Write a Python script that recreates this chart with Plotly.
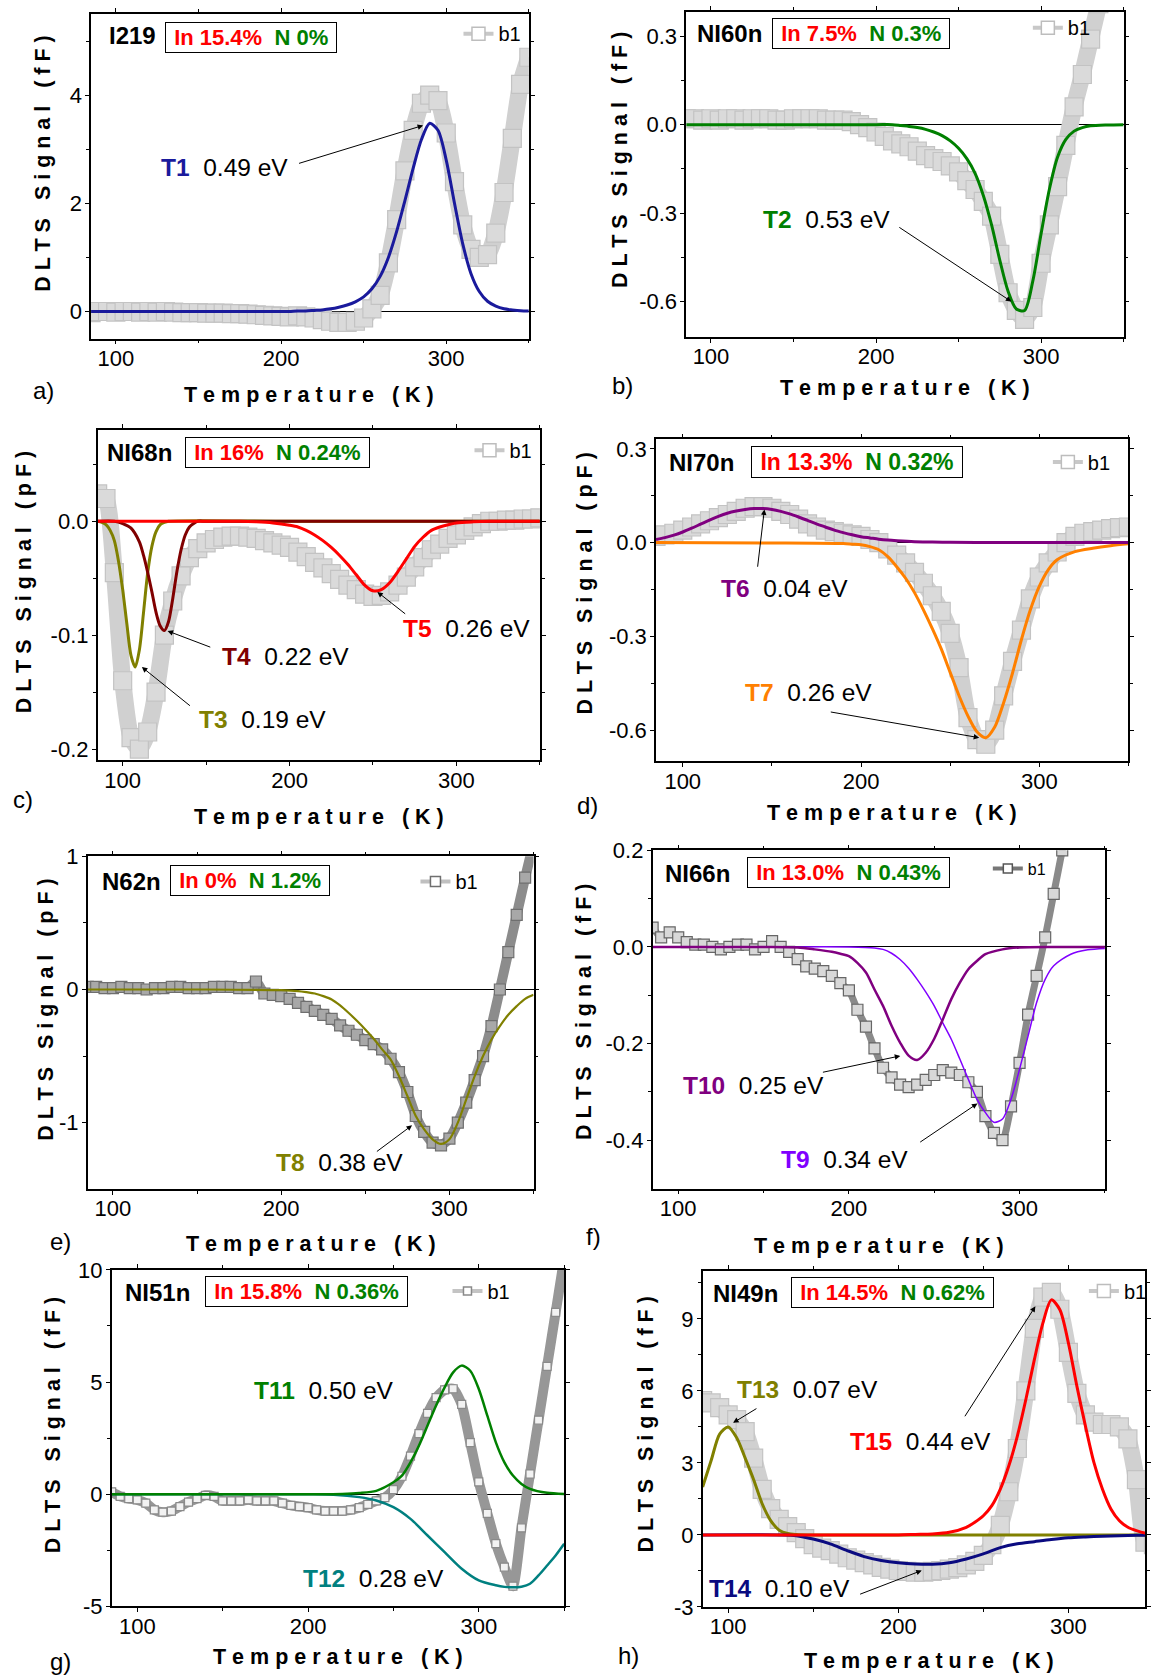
import plotly.graph_objects as go

W, H = 1152, 1680
FONT = "Liberation Sans, Arial, Helvetica, sans-serif"

# ---------------- shared temperature grid / ticks ----------------
T_GRID = [85, 90, 95, 100, 105, 110, 115, 120, 125, 130,
          135, 140, 145, 150, 155, 160, 165, 170, 175, 180,
          185, 190, 195, 200, 205, 210, 215, 220, 225, 230,
          235, 240, 245, 250, 255, 260, 265, 270, 275, 280,
          285, 290, 295, 300, 305, 310, 315, 320, 325, 330,
          335, 340, 345, 350]
X_RANGE = [85, 350]
X_TICKS = [100, 200, 300]
X_TICK_TEXT = ["100", "200", "300"]
X_MINOR = [150, 250, 350]

# ---------------- measured DLTS spectra (b1) ----------------
A_DATA = [-0.02, 0.0, 0.0, -0.01, 0.0, 0.0, -0.01, 0.0, -0.01, 0.0,
          -0.01, -0.02, -0.02, -0.02, -0.03, -0.03, -0.03, -0.04, -0.04, -0.05,
          -0.06, -0.07, -0.08, -0.09, -0.1, -0.08, -0.1, -0.12, -0.15, -0.18,
          -0.2, -0.2, -0.18, -0.12, 0.05, 0.3, 0.9, 1.7, 2.6, 3.35,
          3.85, 4.0, 3.9, 3.3, 2.4, 1.6, 1.15, 1.0, 1.05, 1.45,
          2.2, 3.2, 4.2, 4.7]
B_DATA = [0.02, 0.02, 0.015, 0.02, 0.015, 0.02, 0.02, 0.015, 0.02, 0.02,
          0.02, 0.015, 0.015, 0.02, 0.02, 0.02, 0.02, 0.015, 0.015, 0.015,
          0.01, 0.0, -0.01, -0.025, -0.04, -0.055, -0.065, -0.075, -0.09, -0.105,
          -0.115, -0.125, -0.14, -0.16, -0.19, -0.22, -0.26, -0.31, -0.44, -0.57,
          -0.63, -0.66, -0.62, -0.47, -0.34, -0.21, -0.07, 0.06, 0.17, 0.29,
          0.41, 0.53, 0.65, 0.77]
C_DATA = [0.024, 0.02, -0.045, -0.14, -0.19, -0.2, -0.185, -0.15, -0.1, -0.07,
          -0.048, -0.032, -0.024, -0.019, -0.016, -0.014, -0.013, -0.013, -0.014, -0.015,
          -0.017, -0.019, -0.021, -0.023, -0.027, -0.031, -0.036, -0.041, -0.046, -0.051,
          -0.056, -0.06, -0.064, -0.066, -0.065, -0.062, -0.056, -0.049, -0.04, -0.032,
          -0.025, -0.02, -0.015, -0.012, -0.008, -0.005, -0.002, 0.0, 0.0, 0.001,
          0.001, 0.002, 0.002, 0.003]
D_DATA = [0.02, 0.025, 0.03, 0.04, 0.05, 0.06, 0.07, 0.08, 0.09, 0.1,
          0.11, 0.115, 0.115, 0.11, 0.1, 0.09, 0.075, 0.06, 0.05, 0.04,
          0.035, 0.03, 0.025, 0.02, 0.01, 0.0, -0.02, -0.04, -0.065, -0.095,
          -0.13, -0.17, -0.22, -0.29, -0.4, -0.56, -0.63, -0.645, -0.6, -0.49,
          -0.38, -0.28, -0.18, -0.11, -0.065, -0.03, 0.0, 0.02, 0.03, 0.035,
          0.04, 0.045, 0.048, 0.05]
E_DATA = [0.02, 0.02, 0.01, 0.01, 0.02, 0.01, 0.01, 0.0, 0.01, 0.01,
          0.02, 0.02, 0.01, 0.01, 0.01, 0.02, 0.02, 0.02, 0.01, 0.01,
          0.06, -0.03, -0.04, -0.05, -0.07, -0.1, -0.13, -0.16, -0.19, -0.22,
          -0.27, -0.31, -0.34, -0.38, -0.41, -0.45, -0.52, -0.62, -0.77, -0.95,
          -1.07, -1.15, -1.17, -1.12, -1.0, -0.85, -0.68, -0.5, -0.275, 0.0,
          0.28, 0.56, 0.84, 1.1]
F_DATA = [0.04, 0.02, 0.03, 0.02, 0.01, 0.005, 0.005, 0.0, -0.005, 0.0,
          0.005, 0.005, -0.005, 0.0, 0.012, 0.0, -0.01, -0.025, -0.04, -0.045,
          -0.05, -0.06, -0.075, -0.09, -0.13, -0.165, -0.21, -0.25, -0.27, -0.285,
          -0.29, -0.285, -0.275, -0.265, -0.255, -0.26, -0.265, -0.28, -0.3, -0.35,
          -0.385, -0.4, -0.33, -0.24, -0.14, -0.06, 0.02, 0.11, 0.2, 0.3,
          0.4, 0.5, 0.6, 0.7]
G_DATA = [0.1, -0.1, -0.2, -0.25, -0.4, -0.7, -0.8, -0.75, -0.55, -0.35,
          -0.2, -0.05, -0.1, -0.3, -0.3, -0.3, -0.25, -0.3, -0.3, -0.3,
          -0.4, -0.5, -0.55, -0.6, -0.7, -0.75, -0.75, -0.75, -0.7, -0.6,
          -0.45, -0.3, -0.15, 0.2, 0.8, 1.7, 2.7, 3.6, 4.3, 4.65,
          4.7, 4.0, 2.3, 0.55, -0.85, -2.2, -3.25, -4.1, -1.5, 0.9,
          3.3, 5.7, 8.1, 10.5]
H_DATA = [5.6, 5.5, 5.3, 5.0, 4.8, 4.3, 3.2, 1.9, 1.1, 0.65,
          0.35, 0.1, -0.15, -0.4, -0.55, -0.65, -0.8, -0.95, -1.05, -1.15,
          -1.25, -1.35, -1.42, -1.48, -1.52, -1.55, -1.55, -1.52, -1.48, -1.42,
          -1.36, -1.25, -1.1, -0.85, -0.4, 0.4, 1.8, 3.6, 6.0, 8.6,
          9.9, 10.1, 9.4, 7.6, 5.9, 5.0, 4.7, 4.6, 4.6, 4.5,
          4.0, 2.3, -0.3, -0.4]

# ---------------- fitted trap components ----------------
T1_X = [85, 150, 200, 205, 210, 215, 220, 225, 230, 235, 240, 245, 250, 255, 260, 265,
        270, 275, 280, 285, 290, 295, 300, 305, 310, 315, 320, 325, 330, 335, 340, 345, 350]
T1_Y = [0, 0, 0.0, 0.0, 0.01, 0.01, 0.02, 0.03, 0.05, 0.08, 0.12, 0.18, 0.27, 0.42, 0.65, 1.0,
        1.48, 2.05, 2.65, 3.18, 3.48, 3.35, 2.8, 2.0, 1.25, 0.7, 0.37, 0.19, 0.1, 0.05, 0.03, 0.015, 0.01]

T2_X = [85, 150, 200, 210, 215, 220, 225, 230, 235, 240, 245, 250, 255, 260, 265, 270, 275,
        280, 285, 290, 295, 300, 305, 310, 315, 320, 325, 330, 340, 350]
T2_Y = [0, 0, 0, 0, -0.003, -0.006, -0.01, -0.016, -0.025, -0.037, -0.055, -0.08, -0.115, -0.165,
        -0.24, -0.34, -0.46, -0.565, -0.625, -0.63, -0.53, -0.37, -0.22, -0.11, -0.05, -0.022,
        -0.01, -0.004, -0.001, 0]

T3_X = [85, 87.5, 90, 92.5, 95, 97.5, 100, 102.5, 105, 107.5, 110, 112.5, 115, 117.5, 120,
        122.5, 125, 127.5, 200, 350]
T3_Y = [0, -0.001, -0.003, -0.008, -0.017, -0.035, -0.06, -0.09, -0.118, -0.128, -0.113, -0.08,
        -0.045, -0.022, -0.009, -0.003, -0.001, 0, 0, 0]

T4_X = [85, 95, 100, 105, 110, 112.5, 115, 117.5, 120, 122.5, 125, 127.5, 130, 132.5, 135,
        137.5, 140, 142.5, 145, 150, 200, 350]
T4_Y = [0, 0, -0.002, -0.006, -0.018, -0.03, -0.045, -0.062, -0.08, -0.092, -0.096, -0.088,
        -0.068, -0.044, -0.025, -0.012, -0.005, -0.002, 0, 0, 0, 0]

T5_X = [85, 150, 170, 180, 190, 200, 205, 210, 215, 220, 225, 230, 235, 240, 245, 250, 255,
        260, 265, 270, 275, 280, 285, 290, 295, 300, 310, 320, 350]
T5_Y = [0, 0, 0, -0.0005, -0.0015, -0.0035, -0.005, -0.008, -0.012, -0.017, -0.023, -0.03,
        -0.038, -0.047, -0.056, -0.061, -0.06, -0.054, -0.044, -0.033, -0.022, -0.014, -0.008,
        -0.005, -0.003, -0.0015, -0.0005, 0, 0]

T6_X = [85, 90, 95, 100, 105, 110, 115, 120, 125, 130, 135, 140, 145, 150, 155, 160, 165, 170,
        175, 180, 185, 190, 195, 200, 205, 210, 215, 220, 230, 240, 250, 270, 350]
T6_Y = [0.01, 0.016, 0.024, 0.034, 0.046, 0.059, 0.072, 0.084, 0.094, 0.101, 0.106, 0.109,
        0.109, 0.106, 0.1, 0.092, 0.082, 0.071, 0.06, 0.05, 0.04, 0.032, 0.025, 0.019, 0.015,
        0.011, 0.008, 0.006, 0.003, 0.002, 0.001, 0.0, 0.0]

T7_X = [85, 150, 190, 195, 200, 205, 210, 215, 220, 225, 230, 235, 240, 245, 250, 255, 260,
        265, 270, 275, 280, 285, 290, 295, 300, 305, 310, 320, 330, 340, 350]
T7_Y = [0, -0.001, -0.003, -0.005, -0.007, -0.013, -0.023, -0.045, -0.077, -0.114, -0.16,
        -0.215, -0.275, -0.34, -0.415, -0.49, -0.555, -0.605, -0.624, -0.59, -0.512, -0.417,
        -0.31, -0.215, -0.14, -0.087, -0.055, -0.029, -0.018, -0.01, -0.004]

T8_X = [85, 150, 200, 210, 215, 220, 225, 230, 235, 240, 245, 250, 255, 260, 265, 270, 275,
        280, 285, 290, 295, 300, 305, 310, 315, 320, 325, 330, 335, 340, 345, 350]
T8_Y = [0, 0, -0.005, -0.012, -0.02, -0.03, -0.05, -0.075, -0.12, -0.175, -0.235, -0.3, -0.37,
        -0.45, -0.525, -0.65, -0.8, -0.95, -1.05, -1.125, -1.16, -1.125, -1.0, -0.825, -0.65,
        -0.5, -0.375, -0.275, -0.19, -0.125, -0.07, -0.04]

T9_X = [85, 150, 200, 215, 220, 225, 230, 235, 240, 245, 250, 255, 260, 265, 270, 275, 280,
        285, 290, 295, 300, 305, 310, 315, 320, 330, 340, 350]
T9_Y = [0, 0, 0, -0.002, -0.005, -0.013, -0.026, -0.044, -0.067, -0.093, -0.122, -0.157,
        -0.191, -0.232, -0.274, -0.315, -0.343, -0.363, -0.356, -0.315, -0.253, -0.184, -0.115,
        -0.067, -0.039, -0.015, -0.006, -0.003]

T10_X = [85, 150, 170, 180, 190, 195, 200, 205, 210, 215, 220, 225, 230, 235, 240, 245, 250,
         255, 260, 265, 270, 275, 280, 290, 300, 320, 350]
T10_Y = [0, 0, -0.001, -0.005, -0.01, -0.014, -0.019, -0.033, -0.053, -0.088, -0.122, -0.163,
         -0.198, -0.225, -0.234, -0.219, -0.19, -0.15, -0.108, -0.074, -0.046, -0.029, -0.015,
         -0.005, -0.001, 0, 0]

T11_X = [85, 150, 200, 220, 230, 240, 250, 255, 260, 265, 270, 275, 280, 285, 290, 295, 300,
         305, 310, 315, 320, 325, 330, 340, 350]
T11_Y = [0, 0, 0, 0.01, 0.05, 0.15, 0.53, 0.83, 1.42, 2.17, 3.06, 3.95, 4.76, 5.43, 5.73, 5.5,
         4.69, 3.5, 2.31, 1.42, 0.83, 0.46, 0.24, 0.06, 0.01]

T12_X = [85, 150, 200, 215, 230, 240, 250, 260, 270, 280, 290, 300, 310, 315, 320, 325, 330,
         335, 340, 345, 350]
T12_Y = [0, 0, 0, -0.02, -0.13, -0.28, -0.58, -1.1, -1.84, -2.58, -3.32, -3.84, -4.06, -4.13,
         -4.15, -4.12, -3.99, -3.62, -3.18, -2.73, -2.21]

T13_X = [85, 90, 95, 100, 105, 110, 115, 120, 125, 130, 135, 140, 150, 200, 350]
T13_Y = [2.0, 3.1, 4.2, 4.5, 4.05, 3.2, 2.3, 1.3, 0.6, 0.2, 0.06, 0.02, 0.0, 0.0, 0.0]

T14_X = [85, 130, 140, 150, 160, 170, 180, 190, 200, 210, 220, 230, 240, 250, 260, 270, 280,
         290, 300, 310, 320, 330, 340, 350]
T14_Y = [0, 0, -0.03, -0.17, -0.37, -0.65, -0.9, -1.06, -1.16, -1.21, -1.22, -1.16, -1.0, -0.79,
         -0.53, -0.37, -0.28, -0.19, -0.12, -0.08, -0.05, -0.03, -0.015, 0]

T15_X = [85, 150, 200, 210, 220, 230, 240, 245, 250, 255, 260, 265, 270, 275, 280, 285, 290,
         295, 300, 305, 310, 315, 320, 325, 330, 335, 340, 345, 350]
T15_Y = [0, 0, 0, 0.02, 0.04, 0.11, 0.32, 0.53, 0.8, 1.22, 1.91, 2.88, 4.12, 5.64, 7.3, 8.82,
         9.79, 9.38, 8.0, 6.2, 4.54, 3.02, 1.91, 1.08, 0.59, 0.32, 0.18, 0.08, 0.04]

# ---------------- colours ----------------
C_NAVY = "#1a1a9c"
C_NAVY2 = "#0a0a80"
C_GREEN = "#008000"
C_OLIVE = "#808000"
C_DRED = "#800000"
C_RED = "#ff0000"
C_PURPLE = "#800080"
C_ORANGE = "#ff8000"
C_VIOLET = "#8000ff"
C_TEAL = "#008080"

STYLES = {
    'light': dict(size=18, edge='#c3c3c3', fill='#dadada', lw=17, lc='#d0d0d0',
                  leg_lc='#c8c8c8', leg_size=13, leg_edge='#bdbdbd', leg_fs=20),
    'dark': dict(size=11, edge='#6f6f6f', fill='#a8a8a8', lw=10, lc='#8c8c8c',
                 leg_lc='#c0c0c0', leg_size=10, leg_edge='#6f6f6f', leg_fs=20),
    'darkf': dict(size=11, edge='#666666', fill='#d8d8d8', lw=7, lc='#8a8a8a',
                  leg_lc='#777777', leg_size=9, leg_edge='#555555', leg_fs=16),
    'g': dict(size=8, edge='#8a8a8a', fill='#f2f2f2', lw=10, lc='#979797',
              leg_lc='#c4c4c4', leg_size=8, leg_edge='#8a8a8a', leg_fs=20),
}

# ---------------- panel layout (pixel positions) ----------------
PANELS = [
    dict(data=A_DATA, style='light', yr=[-0.5, 5.5], ytv=[0, 2, 4], ytt=["0", "2", "4"], ym=[1, 3, 5],
         box=(90.8, 13.3, 528.3, 338.3), unit="fF",
         fits=[(T1_X, T1_Y, C_NAVY, 3)],
         sample="I219", inn="In 15.4%", nn="N 0%", sample_xy=(107, 35), box_c=(250.5, 37), box_fs=22,
         leg=(498, 33), letter="a)", letter_xy=(31, 390), xt=(309, 395), yt=(43, 163),
         labels=[(126, 2.67, "T1", C_NAVY, "0.49 eV")],
         arrows=[(210, 2.73, 286, 3.44)]),
    dict(data=B_DATA, style='light', yr=[-0.72, 0.4], ytv=[-0.6, -0.3, 0.0, 0.3],
         ytt=["-0.6", "-0.3", "0.0", "0.3"], ym=[-0.45, -0.15, 0.15],
         box=(685.6, 6, 1122.7, 336.7), unit="fF",
         fits=[(T2_X, T2_Y, C_GREEN, 3)],
         sample="NI60n", inn="In 7.5%", nn="N 0.3%", sample_xy=(694, 33), box_c=(860.5, 32.5), box_fs=22,
         leg=(1067, 27), letter="b)", letter_xy=(609, 385), xt=(904, 388), yt=(620, 160),
         labels=[(130, -0.323, "T2", C_GREEN, "0.53 eV")],
         arrows=[(213.2, -0.345, 282, -0.6)]),
    dict(data=C_DATA, style='light', yr=[-0.21, 0.08], ytv=[-0.2, -0.1, 0.0],
         ytt=["-0.2", "-0.1", "0.0"], ym=[-0.15, -0.05, 0.05],
         box=(97.4, 430, 539.3, 760.7), unit="pF",
         fits=[(T3_X, T3_Y, C_OLIVE, 3), (T4_X, T4_Y, C_DRED, 3), (T5_X, T5_Y, C_RED, 3)],
         sample="NI68n", inn="In 16%", nn="N 0.24%", sample_xy=(105, 452), box_c=(276.7, 452), box_fs=22,
         leg=(509, 450), letter="c)", letter_xy=(11, 800), xt=(319, 817), yt=(24, 582),
         labels=[(144.5, -0.174, "T3", C_OLIVE, "0.19 eV"), (158.2, -0.119, "T4", C_DRED, "0.22 eV"),
                 (266.9, -0.094, "T5", C_RED, "0.26 eV")],
         arrows=[(141.2, -0.163, 111.5, -0.128), (153.4, -0.111, 126.9, -0.0963),
                 (270.2, -0.0823, 252.6, -0.062)]),
    dict(data=D_DATA, style='light', yr=[-0.7, 0.33], ytv=[-0.6, -0.3, 0.0, 0.3],
         ytt=["-0.6", "-0.3", "0.0", "0.3"], ym=[-0.45, -0.15, 0.15],
         box=(655.4, 439.3, 1127.5, 761.7), unit="pF",
         fits=[(T7_X, T7_Y, C_ORANGE, 3), (T6_X, T6_Y, C_PURPLE, 3)],
         sample="NI70n", inn="In 13.3%", nn="N 0.32%", sample_xy=(666, 462), box_c=(856.5, 462), box_fs=23,
         leg=(1087, 462), letter="d)", letter_xy=(574, 806), xt=(891, 813), yt=(584, 584),
         labels=[(120.6, -0.146, "T6", C_PURPLE, "0.04 eV"), (133.7, -0.48, "T7", C_ORANGE, "0.26 eV")],
         arrows=[(141.9, -0.082, 145.8, 0.106), (182.2, -0.541, 266.3, -0.624)]),
    dict(data=E_DATA, style='dark', yr=[-1.5, 1.0], ytv=[-1, 0, 1], ytt=["-1", "0", "1"], ym=[-0.5, 0.5],
         box=(87.5, 856.7, 533, 1190), unit="pF",
         fits=[(T8_X, T8_Y, C_OLIVE, 2.2)],
         sample="N62n", inn="In 0%", nn="N 1.2%", sample_xy=(100, 882), box_c=(250, 881), box_fs=22,
         leg=(455, 882), letter="e)", letter_xy=(48, 1242), xt=(311, 1245), yt=(46, 1010),
         labels=[(196, -1.3, "T8", C_OLIVE, "0.38 eV")],
         arrows=[(256, -1.225, 277.8, -1.02)]),
    dict(data=F_DATA, style='darkf', yr=[-0.5, 0.2], ytv=[-0.4, -0.2, 0.0, 0.2],
         ytt=["-0.4", "-0.2", "0.0", "0.2"], ym=[-0.3, -0.1, 0.1],
         box=(652, 850.7, 1104, 1189.3), unit="fF",
         fits=[(T9_X, T9_Y, C_VIOLET, 1.5), (T10_X, T10_Y, C_PURPLE, 2.5)],
         sample="NI66n", inn="In 13.0%", nn="N 0.43%", sample_xy=(662, 874), box_c=(847.5, 873), box_fs=22,
         leg=(1027, 869), letter="f)", letter_xy=(583, 1237), xt=(878, 1247), yt=(584, 1013),
         labels=[(101.5, -0.2876, "T10", C_PURPLE, "0.25 eV"), (159.2, -0.439, "T9", C_VIOLET, "0.34 eV")],
         arrows=[(183.9, -0.26, 230.1, -0.2255), (240.9, -0.406, 275.3, -0.324)]),
    dict(data=G_DATA, style='g', yr=[-5, 10], ytv=[-5, 0, 5, 10], ytt=["-5", "0", "5", "10"],
         ym=[-2.5, 2.5, 7.5],
         box=(111.4, 1270.7, 563.6, 1607.7), unit="fF",
         fits=[(T12_X, T12_Y, C_TEAL, 2.5), (T11_X, T11_Y, C_GREEN, 2.5)],
         sample="NI51n", inn="In 15.8%", nn="N 0.36%", sample_xy=(123, 1293), box_c=(306, 1292), box_fs=22,
         leg=(487, 1292), letter="g)", letter_xy=(48, 1668), xt=(338, 1658), yt=(53, 1426),
         labels=[(166.9, 4.61, "T11", C_GREEN, "0.50 eV"), (196, -3.77, "T12", C_TEAL, "0.28 eV")],
         arrows=[]),
    dict(data=H_DATA, style='light', yr=[-3, 11], ytv=[-3, 0, 3, 6, 9], ytt=["-3", "0", "3", "6", "9"],
         ym=[-1.5, 1.5, 4.5, 7.5, 10.5],
         box=(702, 1271.7, 1152.5, 1608.3), unit="fF",
         fits=[(T13_X, T13_Y, C_OLIVE, 3), (T14_X, T14_Y, C_NAVY2, 3), (T15_X, T15_Y, C_RED, 3)],
         sample="NI49n", inn="In 14.5%", nn="N 0.62%", sample_xy=(710, 1294), box_c=(891.5, 1293), box_fs=22,
         leg=(1123, 1292), letter="h)", letter_xy=(615, 1657), xt=(928, 1665), yt=(645, 1426),
         labels=[(103.9, 6.06, "T13", C_OLIVE, "0.07 eV"), (170.7, 3.91, "T15", C_RED, "0.44 eV"),
                 (87.7, -2.24, "T14", C_NAVY2, "0.10 eV")],
         arrows=[(117.5, 5.3, 102.9, 4.67), (238.6, 4.88, 280.6, 9.52), (176.7, -2.49, 213.8, -1.48)]),
]

# page-position calibration (measured render vs. reference)
CAL_X = (0.99328, -0.187)
CAL_Y = (0.98634, 11.325)


def cx(x):
    return (x - CAL_X[1]) / CAL_X[0]


def cy(y):
    return (y - CAL_Y[1]) / CAL_Y[0]


def fx(x):
    return min(max(cx(x), 0), W) / W


def fy(y):
    return 1 - min(max(cy(y), 0), H - 6) / H


def spaced(s):
    return "\u00a0\u00a0\u00a0".join(" ".join(w) for w in s.split(" "))


fig = go.Figure()
annotations = []
layout = dict(width=W, height=H, margin=dict(l=0, r=0, t=0, b=0),
              paper_bgcolor="white", plot_bgcolor="white",
              font=dict(family=FONT, color="black"), showlegend=True)

for i, p in enumerate(PANELS, start=1):
    sfx = "" if i == 1 else str(i)
    xa, ya = "x" + sfx, "y" + sfx
    st = STYLES[p['style']]
    l, t, r, b = p['box']
    assert len(p['data']) == len(T_GRID)

    L, R, T, B = cx(l), cx(r), cy(t), cy(b)
    xr = list(X_RANGE)
    if R > W:
        xr[1] = X_RANGE[0] + (W - L) / (R - L) * (X_RANGE[1] - X_RANGE[0])
        R = W
    yr = list(p['yr'])
    if T < 0:
        yr[1] = p['yr'][0] + (B - 0) / (B - T) * (p['yr'][1] - p['yr'][0])
        T = 0

    fig.add_trace(go.Scatter(
        x=T_GRID, y=p['data'], xaxis=xa, yaxis=ya, mode="lines+markers",
        line=dict(color=st['lc'], width=st['lw'], shape='spline', smoothing=0.6),
        marker=dict(symbol="square", size=st['size'], color=st['fill'],
                    line=dict(color=st['edge'], width=1.2)),
        showlegend=False, hoverinfo="skip"))
    fig.add_trace(go.Scatter(
        x=[None], y=[None], xaxis=xa, yaxis=ya, mode="lines+markers", name="b1",
        line=dict(color=st['leg_lc'], width=4),
        marker=dict(symbol="square", size=st['leg_size'], color="white",
                    line=dict(color=st['leg_edge'], width=1.5)),
        legend="legend" + sfx))
    for (fxs, fys, col, w) in p['fits']:
        assert len(fxs) == len(fys)
        fig.add_trace(go.Scatter(
            x=fxs, y=fys, xaxis=xa, yaxis=ya, mode="lines",
            line=dict(color=col, width=w, shape='spline', smoothing=0.8),
            showlegend=False, hoverinfo="skip"))

    common = dict(showline=True, linecolor="black", linewidth=1.5, mirror="ticks",
                  ticks="outside", ticklen=4, tickwidth=1.3, tickcolor="black",
                  tickfont=dict(size=22, family=FONT, color="black"), showgrid=False)
    layout["xaxis" + sfx] = dict(
        common, domain=[L / W, R / W], anchor=ya, range=xr, zeroline=False,
        tickmode="array", tickvals=X_TICKS, ticktext=X_TICK_TEXT, ticklabelstandoff=-5,
        minor=dict(tickvals=X_MINOR, ticks="outside", ticklen=3, tickwidth=1.3, tickcolor="black"))
    layout["yaxis" + sfx] = dict(
        common, domain=[1 - B / H, 1 - T / H], anchor=xa, range=yr,
        zeroline=True, zerolinecolor="black", zerolinewidth=1,
        tickmode="array", tickvals=p['ytv'], ticktext=p['ytt'], ticklabelstandoff=-1,
        minor=dict(tickvals=p['ym'], ticks="outside", ticklen=3, tickwidth=1.3, tickcolor="black"))

    lx, ly = p['leg']
    layout["legend" + sfx] = dict(x=fx(lx - 40), y=fy(ly), xanchor="left", yanchor="middle",
                                  bgcolor="rgba(0,0,0,0)", borderwidth=0,
                                  font=dict(size=st['leg_fs'], family=FONT, color="black"))

    sx, sy = p['sample_xy']
    annotations.append(dict(x=fx(sx), y=fy(sy), xref="paper", yref="paper", xanchor="left",
                            yanchor="middle", showarrow=False, text="<b>%s</b>" % p['sample'],
                            font=dict(size=24, family=FONT, color="black")))
    bx, by = p['box_c']
    annotations.append(dict(
        x=fx(bx), y=fy(by), xref="paper", yref="paper", xanchor="center", yanchor="middle",
        showarrow=False, bordercolor="black", borderwidth=1, borderpad=2, bgcolor="white",
        text='<b>\u00a0<span style="color:%s">%s</span>\u00a0\u00a0<span style="color:%s">%s</span>\u00a0</b>'
             % (C_RED, p['inn'], C_GREEN, p['nn']),
        font=dict(size=p['box_fs'], family=FONT)))
    ax_, ay_ = p['letter_xy']
    annotations.append(dict(x=fx(ax_), y=fy(ay_), xref="paper", yref="paper", xanchor="left",
                            yanchor="middle", showarrow=False, text=p['letter'],
                            font=dict(size=24, family=FONT, color="black")))
    tx, ty = p['xt']
    annotations.append(dict(x=fx(tx), y=fy(ty), xref="paper", yref="paper", xanchor="center",
                            yanchor="middle", showarrow=False, text="<b>%s</b>" % spaced("Temperature (K)"),
                            font=dict(size=21.5, family=FONT, color="black")))
    vx, vy = p['yt']
    annotations.append(dict(x=fx(vx), y=fy(vy), xref="paper", yref="paper", xanchor="center",
                            yanchor="middle", showarrow=False, textangle=-90,
                            text="<b>%s</b>" % spaced("DLTS Signal (%s)" % p['unit']),
                            font=dict(size=21.5, family=FONT, color="black")))
    for (lxx, lyy, name, col, ev) in p['labels']:
        annotations.append(dict(
            x=lxx, y=lyy, xref=xa, yref=ya, xanchor="left", yanchor="middle", showarrow=False,
            text='<b><span style="color:%s">%s</span></b>\u00a0\u00a0%s' % (col, name, ev),
            font=dict(size=24.5, family=FONT, color="black")))
    for (x0, y0, x1, y1) in p['arrows']:
        annotations.append(dict(
            x=x1, y=y1, ax=x0, ay=y0, xref=xa, yref=ya, axref=xa, ayref=ya, text="",
            showarrow=True, arrowhead=2, arrowsize=1.1, arrowwidth=1, arrowcolor="black", standoff=0))

layout["annotations"] = annotations
fig.update_layout(**layout)
fig.write_html(
    "out.html",
    config={"displayModeBar": False},
    post_script="document.body.style.margin='0px';document.body.style.padding='0px';"
                "document.body.style.overflow='hidden';document.documentElement.style.overflow='hidden';")
